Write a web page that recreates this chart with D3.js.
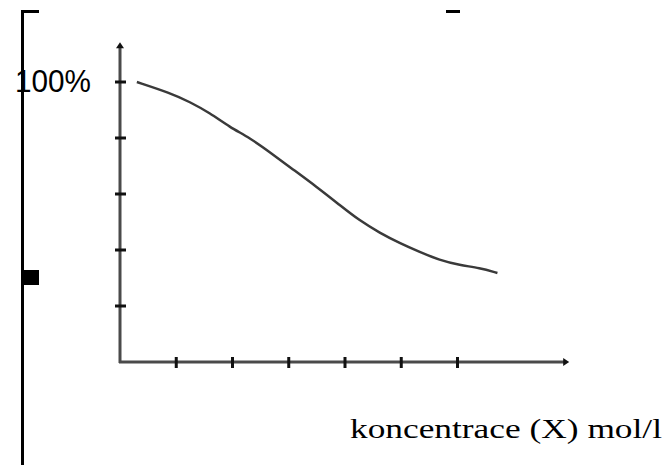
<!DOCTYPE html>
<html><head><meta charset="utf-8">
<script src="https://cdn.jsdelivr.net/npm/d3@7"></script>
<style>html,body{margin:0;padding:0;background:#fff;}svg{display:block;}</style>
</head><body>
<script>
// Data (x in tick units of concentration, y in percent)
const curveX = [0.30, 0.89, 1.24, 1.60, 1.95, 2.31, 2.66, 3.02, 3.50, 3.91, 4.26, 4.62, 4.97, 5.33, 5.68, 6.04, 6.39, 6.71];
const curveY = [100, 96.1, 92.9, 88.9, 83.9, 80, 75, 69.6, 62.5, 56.0, 50.5, 46.1, 42.5, 39.3, 36.4, 34.6, 33.6, 31.8];
const xTicks = [1, 2, 3, 4, 5, 6];
const yTicks = [20, 40, 60, 80, 100];
const yLabel = "100%";
const xLabel = "koncentrace (X) mol/l";

const W = 669, H = 465;
const svg = d3.select("body").append("svg").attr("width", W).attr("height", H);

const x = d3.scaleLinear().domain([0, 8]).range([120, 570]);
const y = d3.scaleLinear().domain([0, 100]).range([362, 82]);

// left bracket & decorations
svg.append("rect").attr("x", 21).attr("y", 10).attr("width", 3).attr("height", H - 10).attr("fill", "#000");
svg.append("rect").attr("x", 21).attr("y", 10).attr("width", 18).attr("height", 3).attr("fill", "#000");
svg.append("rect").attr("x", 22).attr("y", 270).attr("width", 17).attr("height", 15).attr("fill", "#000");
svg.append("rect").attr("x", 446).attr("y", 10).attr("width", 14).attr("height", 3).attr("fill", "#000");

// axes
const axisColor = "#4a4a4a";
svg.append("line").attr("x1", x(0)).attr("x2", x(0)).attr("y1", y(0) + 1).attr("y2", y(113))
  .attr("stroke", axisColor).attr("stroke-width", 3);
svg.append("line").attr("x1", x(0) - 1).attr("x2", x(7.9)).attr("y1", y(0)).attr("y2", y(0))
  .attr("stroke", axisColor).attr("stroke-width", 3);

// arrowheads (small)
const ty = y(113.5);
svg.append("path").attr("d", `M${x(0)},${ty - 2} L${x(0) - 4},${ty + 4} L${x(0) + 4},${ty + 4} Z`).attr("fill", "#111");
const tx = x(7.95);
svg.append("path").attr("d", `M${tx + 2},${y(0)} L${tx - 4},${y(0) - 4} L${tx - 4},${y(0) + 4} Z`).attr("fill", "#111");

// ticks
svg.selectAll(".yt").data(yTicks).enter().append("line")
  .attr("x1", x(0) - 5).attr("x2", x(0) + 6)
  .attr("y1", d => y(d)).attr("y2", d => y(d))
  .attr("stroke", "#111").attr("stroke-width", 3);
svg.selectAll(".xt").data(xTicks).enter().append("line")
  .attr("x1", d => x(d)).attr("x2", d => x(d))
  .attr("y1", y(0) - 5).attr("y2", y(0) + 6)
  .attr("stroke", "#111").attr("stroke-width", 3);

// curve
const pts = curveX.map((v, i) => [v, curveY[i]]);
svg.append("path").datum(pts)
  .attr("d", d3.line().x(d => x(d[0])).y(d => y(d[1])).curve(d3.curveBasis))
  .attr("fill", "none").attr("stroke", "#3a3a3a").attr("stroke-width", 2.5);

// labels
svg.append("text").attr("x", 15).attr("y", 92)
  .attr("font-family", "Liberation Sans, Arial, sans-serif").attr("font-size", 31)
  .attr("textLength", 76).attr("lengthAdjust", "spacingAndGlyphs")
  .attr("fill", "#000").text(yLabel);
svg.append("text").attr("x", 350).attr("y", 438)
  .attr("font-family", "Liberation Serif, Times New Roman, serif").attr("font-size", 27)
  .attr("textLength", 312).attr("lengthAdjust", "spacingAndGlyphs")
  .attr("fill", "#000").text(xLabel);
</script>
</body></html>
